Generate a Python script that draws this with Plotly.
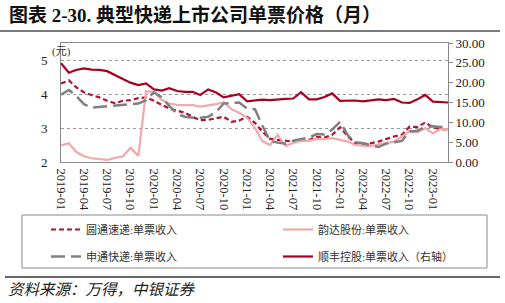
import pandas as pd
import plotly.graph_objects as go

months = pd.date_range("2019-01-01", "2023-03-01", freq="MS").strftime("%Y-%m-%d").tolist()

yto = [4.31, 4.40, 4.20, 4.05, 3.97, 3.90, 3.80, 3.73, 3.80, 3.82,
       3.88, 3.90, 3.80, 3.68, 3.57, 3.51, 3.45, 3.33, 3.23, 3.24,
       3.29, 3.33, 3.18, 3.22, 3.33, 3.15, 2.90, 2.68, 2.65, 2.63,
       2.60, 2.61, 2.65, 2.74, 2.72, 2.80, 3.02, 2.75, 2.56, 2.53,
       2.55, 2.60, 2.68, 2.75, 2.80, 3.04, 3.03, 3.16, 3.02, 2.96, 2.97]

yunda = [2.49, 2.55, 2.30, 2.17, 2.11, 2.09, 2.06, 2.12, 2.16, 2.42,
         2.18, 4.08, 4.06, 3.82, 3.72, 3.68, 3.67, 3.67, 3.63, 3.66,
         3.70, 3.76, 3.55, 3.45, 3.30, 3.00, 2.62, 2.50, 2.80, 2.47,
         2.56, 2.62, 2.62, 2.68, 2.67, 2.70, 2.66, 2.60, 2.50, 2.47,
         2.46, 2.52, 2.56, 2.60, 2.75, 2.90, 2.87, 3.00, 2.84, 2.98, 2.96]

sto = [3.98, 4.12, 3.95, 3.70, 3.60, 3.62, 3.65, 3.66, 3.67, 3.70,
       3.72, 3.82, 4.05, 3.90, 3.65, 3.42, 3.33, 3.30, 3.30, 3.33,
       3.47, 3.72, 3.74, 3.75, 3.57, 3.55, 3.08, 2.62, 2.57, 2.54,
       2.63, 2.68, 2.72, 2.82, 2.81, 2.95, 3.18, 2.78, 2.58, 2.55,
       2.50, 2.44, 2.54, 2.57, 2.62, 2.90, 2.92, 3.03, 3.05, 3.03, 3.03]

sf = [24.9, 22.5, 23.2, 23.6, 23.3, 23.2, 22.9, 21.8, 20.9, 20.0,
      19.4, 19.8, 18.3, 18.0, 18.6, 17.9, 17.7, 17.7, 16.9, 18.3,
      17.5, 16.3, 16.8, 17.1, 15.3, 15.6, 15.7, 15.6, 15.8, 15.9,
      16.0, 17.6, 15.8, 15.8, 16.4, 17.3, 15.4, 15.4, 15.5, 15.3,
      15.5, 15.8, 15.6, 15.9, 15.0, 14.9, 15.8, 16.9, 15.2, 15.1, 15.0]

names = ["圆通速递:单票收入", "韵达股份:单票收入", "申通快递:单票收入", "顺丰控股:单票收入（右轴）"]
title_text = "图表 2-30. 典型快递上市公司单票价格（月）"
source_text = "资料来源：万得，中银证券"
unit_text = "(元)"

W, H = 505, 303
L, R, T, B = 61, 57, 43, 141
PW, PH = W - L - R, H - T - B


def px(x):
    return (x - L) / PW


def py(y):
    return (H - B - y) / PH


CJK = "Noto Sans CJK SC"
SERIF = "Liberation Serif"
MIXED = "Liberation Serif, Noto Sans CJK SC"

fig = go.Figure()
fig.add_trace(go.Scatter(x=months, y=yto, name=names[0], mode="lines",
                         line=dict(color="#B5122E", width=2.2, dash="5px,3px"),
                         legend="legend", legendwidth=187))
fig.add_trace(go.Scatter(x=months, y=yunda, name=names[1], mode="lines",
                         line=dict(color="#F0AAAA", width=2.2),
                         legend="legend", legendwidth=120))
fig.add_trace(go.Scatter(x=months, y=sto, name=names[2], mode="lines",
                         line=dict(color="#808080", width=2.5, dash="14px,6px"),
                         legend="legend2", legendwidth=187))
fig.add_trace(go.Scatter(x=months, y=sf, name=names[3], mode="lines", yaxis="y2",
                         line=dict(color="#A8001F", width=2.2),
                         legend="legend2", legendwidth=150))

axis_col = "#8a8a8a"
fig.update_layout(
    width=W, height=H,
    margin=dict(l=L, r=R, t=T, b=B, autoexpand=False),
    paper_bgcolor="white", plot_bgcolor="white",
    font=dict(family=SERIF, size=12, color="#222"),
    xaxis=dict(type="date", range=["2019-01-01", "2023-03-01"],
               dtick="M3", tick0="2019-01-01", tickformat="%Y-%m",
               tickangle=90, showgrid=False, showline=True, linecolor=axis_col,
               linewidth=1, mirror=True, ticks="", ticklabelstandoff=3,
               tickfont=dict(family=SERIF, size=12.5, color="#222")),
    yaxis=dict(range=[2, 5.5], tickvals=[2, 3, 4, 5], showline=True,
               linecolor=axis_col, linewidth=1, showgrid=True,
               gridcolor="#999", griddash="dot", gridwidth=1, zeroline=False,
               ticks="", ticklabelstandoff=10,
               tickfont=dict(family=SERIF, size=13, color="#222")),
    yaxis2=dict(range=[0, 30], dtick=5, tickformat=".2f", overlaying="y",
                side="right", showline=True, linecolor=axis_col, linewidth=1,
                showgrid=False, zeroline=False, ticks="outside", ticklen=4,
                tickcolor=axis_col,
                tickfont=dict(family=SERIF, size=13, color="#222")),
    legend=dict(orientation="h", x=px(46), xanchor="left", y=py(215), yanchor="top",
                bgcolor="rgba(0,0,0,0)", borderwidth=0,
                font=dict(family=MIXED, size=11, color="#333")),
    legend2=dict(orientation="h", x=px(46), xanchor="left", y=py(242), yanchor="top",
                 bgcolor="rgba(0,0,0,0)", borderwidth=0,
                 font=dict(family=MIXED, size=11, color="#333")),
    showlegend=True,
)

shapes = [
    dict(type="line", xref="paper", yref="paper", x0=px(0), x1=px(500), y0=py(31), y1=py(31),
         line=dict(color="#7a7a7a", width=2)),
    dict(type="rect", xref="paper", yref="paper", x0=px(22), x1=px(487), y0=py(268), y1=py(215),
         line=dict(color="#8a8a8a", width=1)),
    dict(type="line", xref="paper", yref="paper", x0=px(5), x1=px(500), y0=py(277), y1=py(277),
         line=dict(color="#333", width=1.5)),
]
fig.update_layout(shapes=shapes)

fig.add_annotation(text="<b>" + title_text + "</b>", xref="paper", yref="paper",
                   x=px(7), y=py(15), xanchor="left", yanchor="middle", showarrow=False,
                   font=dict(family=MIXED, size=19, color="#111"))
fig.add_annotation(text="<i>" + source_text + "</i>", xref="paper", yref="paper",
                   x=px(6), y=py(288), xanchor="left", yanchor="middle", showarrow=False,
                   font=dict(family=CJK, size=15.5, color="#222"))
fig.add_annotation(text=unit_text, xref="paper", yref="paper",
                   x=px(61), y=py(52), xanchor="center", yanchor="middle", showarrow=False,
                   font=dict(family=MIXED, size=11, color="#333"))

fig.write_html("out.html")
